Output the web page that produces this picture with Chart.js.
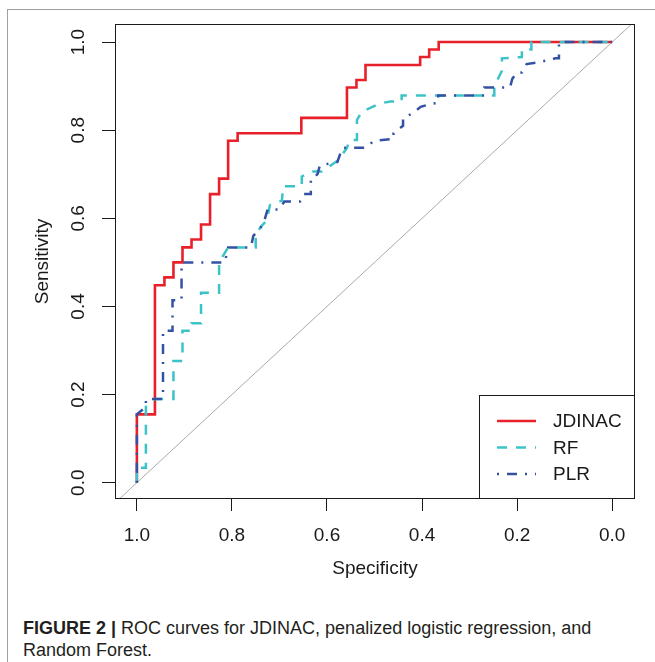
<!DOCTYPE html>
<html>
<head>
<meta charset="utf-8">
<script src="https://cdn.jsdelivr.net/npm/chart.js@4.4.1/dist/chart.umd.min.js"></script>
<style>
  body { margin: 0; background: #fff; }
  #wrap { position: relative; width: 655px; height: 662px; overflow: hidden; }
  #frame { position: absolute; left: 7px; top: 9px; width: 700px; height: 700px;
           border-left: 1px solid #a0a0a0; border-top: 1px solid #a0a0a0; }
  #roc { position: absolute; left: 0; top: 0; }
  #caption { position: absolute; left: 23px; top: 617px; color: #231f20;
             font: 18px "Liberation Sans", Arial, sans-serif; line-height: 22px; }
  #caption b { font-weight: bold; }
</style>
</head>
<body>
<div id="wrap">
  <div id="frame"></div>
  <canvas id="roc" width="655" height="590"></canvas>
  <div id="caption"><b>FIGURE 2 |</b> ROC curves for JDINAC, penalized logistic regression, and<br>Random Forest.</div>
</div>
<script>
// axis ticks and limits
const specTicks = [1.0, 0.8, 0.6, 0.4, 0.2, 0.0];
const sensTicks = [0.0, 0.2, 0.4, 0.6, 0.8, 1.0];
const specMin = -0.048, specMax = 1.046;
const sensMin = -0.037, sensMax = 1.041;

// JDINAC (step corners)
const jdinacSpec = [1.0, 1.0, 0.962, 0.962, 0.942, 0.942, 0.923, 0.923, 0.904, 0.904, 0.885, 0.885,
  0.865, 0.865, 0.846, 0.846, 0.827, 0.827, 0.808, 0.808, 0.788, 0.788, 0.654, 0.654, 0.558, 0.558,
  0.538, 0.538, 0.519, 0.519, 0.404, 0.404, 0.385, 0.385, 0.365, 0.365, 0.0];
const jdinacSens = [0.0, 0.155, 0.155, 0.448, 0.448, 0.466, 0.466, 0.5, 0.5, 0.534, 0.534, 0.552,
  0.552, 0.586, 0.586, 0.655, 0.655, 0.69, 0.69, 0.776, 0.776, 0.793, 0.793, 0.828, 0.828, 0.897,
  0.897, 0.914, 0.914, 0.948, 0.948, 0.966, 0.966, 0.983, 0.983, 1.0, 1.0];

// Random Forest
const rfSpec = [1.0, 1.0, 0.981, 0.981, 0.962, 0.923, 0.923, 0.904, 0.904, 0.885, 0.885, 0.865,
  0.865, 0.827, 0.827, 0.808, 0.75, 0.75, 0.74, 0.727, 0.72, 0.695, 0.692, 0.653, 0.653, 0.63,
  0.611, 0.576, 0.558, 0.552, 0.537, 0.537, 0.527, 0.51, 0.488, 0.467, 0.443, 0.443, 0.248, 0.248,
  0.232, 0.232, 0.19, 0.19, 0.17, 0.17, 0.0];
const rfSens = [0.0, 0.034, 0.034, 0.172, 0.19, 0.19, 0.276, 0.276, 0.345, 0.345, 0.362, 0.362,
  0.431, 0.431, 0.5, 0.534, 0.534, 0.56, 0.58, 0.595, 0.63, 0.64, 0.673, 0.673, 0.695, 0.706,
  0.706, 0.732, 0.76, 0.778, 0.778, 0.823, 0.842, 0.85, 0.861, 0.865, 0.865, 0.879, 0.879, 0.899,
  0.935, 0.963, 0.966, 0.983, 0.983, 1.0, 1.0];

// Penalized logistic regression
const plrSpec = [1.0, 1.0, 0.981, 0.981, 0.945, 0.945, 0.925, 0.925, 0.906, 0.906, 0.815, 0.808,
  0.76, 0.755, 0.734, 0.725, 0.70, 0.69, 0.657, 0.65, 0.634, 0.634, 0.62, 0.615, 0.578, 0.568,
  0.52, 0.501, 0.46, 0.46, 0.44, 0.44, 0.42, 0.403, 0.38, 0.366, 0.366, 0.269, 0.269, 0.215,
  0.21, 0.2, 0.19, 0.18, 0.15, 0.12, 0.112, 0.112, 0.0];
const plrSens = [0.0, 0.155, 0.172, 0.19, 0.19, 0.345, 0.345, 0.414, 0.414, 0.5, 0.5, 0.534,
  0.534, 0.56, 0.586, 0.62, 0.62, 0.638, 0.638, 0.655, 0.655, 0.69, 0.70, 0.72, 0.728, 0.76,
  0.76, 0.776, 0.78, 0.793, 0.81, 0.828, 0.838, 0.853, 0.86, 0.862, 0.879, 0.879, 0.897, 0.897,
  0.917, 0.931, 0.931, 0.95, 0.955, 0.963, 0.963, 1.0, 1.0];

const toPoints = (xs, ys) => xs.map((x, i) => ({ x: x, y: ys[i] }));

Chart.defaults.font.family = '"Liberation Sans", Arial, sans-serif';
Chart.defaults.color = '#1a1a1a';

// box round the plot area
const plotBox = {
  id: 'plotBox',
  afterDraw(chart) {
    const { ctx, chartArea: a } = chart;
    ctx.save();
    ctx.strokeStyle = '#1a1a1a';
    ctx.lineWidth = 1;
    ctx.strokeRect(Math.round(a.left) + 0.5, Math.round(a.top) + 0.5,
      Math.round(a.right - a.left) - 1, Math.round(a.bottom - a.top) - 1);
    ctx.restore();
  }
};

// R style rotated y tick labels
const yLabels = {
  id: 'yLabels',
  afterDraw(chart) {
    const { ctx } = chart;
    const ys = chart.scales.y;
    ctx.save();
    ctx.fillStyle = '#1a1a1a';
    ctx.font = '19px "Liberation Sans", Arial, sans-serif';
    ctx.textAlign = 'center';
    ctx.textBaseline = 'middle';
    sensTicks.forEach(v => {
      ctx.save();
      ctx.translate(79, ys.getPixelForValue(v));
      ctx.rotate(-Math.PI / 2);
      ctx.fillText(v.toFixed(1), 0, 0);
      ctx.restore();
    });
    ctx.restore();
  }
};

// legend box in the lower right corner
const legendBox = {
  id: 'legendBox',
  afterDraw(chart) {
    const { ctx, chartArea: a } = chart;
    const w = 156, h = 104;
    const x0 = Math.round(a.right - w), y0 = Math.round(a.bottom - h);
    ctx.save();
    ctx.fillStyle = '#fff';
    ctx.fillRect(x0, y0, w, h);
    ctx.strokeStyle = '#1a1a1a';
    ctx.lineWidth = 1;
    ctx.strokeRect(x0 + 0.5, y0 + 0.5, w - 1, h - 1);
    const rows = [26, 52.5, 79];
    chart.data.datasets.filter(d => d.label).forEach((d, i) => {
      const y = y0 + rows[i];
      ctx.strokeStyle = d.borderColor;
      ctx.lineWidth = d.borderWidth;
      ctx.setLineDash(d.borderDash || []);
      ctx.beginPath();
      ctx.moveTo(x0 + 18, y);
      ctx.lineTo(x0 + 57, y);
      ctx.stroke();
      ctx.setLineDash([]);
      ctx.fillStyle = '#1a1a1a';
      ctx.font = '19px "Liberation Sans", Arial, sans-serif';
      ctx.textBaseline = 'middle';
      ctx.fillText(d.label, x0 + 74, y + 1);
    });
    ctx.restore();
  }
};

new Chart(document.getElementById('roc'), {
  type: 'line',
  data: {
    datasets: [
      { label: 'JDINAC', data: toPoints(jdinacSpec, jdinacSens), borderColor: '#e8202a',
        borderWidth: 2.6, order: 3 },
      { label: 'RF', data: toPoints(rfSpec, rfSens), borderColor: '#3cc3c8',
        borderWidth: 2.5, borderDash: [10, 9], order: 2 },
      { label: 'PLR', data: toPoints(plrSpec, plrSens), borderColor: '#3452a4',
        borderWidth: 2.5, borderDash: [2, 8, 10, 8], order: 1 },
      { label: '', data: [{ x: specMax, y: 1 - specMax }, { x: specMin, y: 1 - specMin }],
        borderColor: '#aaaaaa', borderWidth: 1, order: 4 }
    ]
  },
  options: {
    responsive: false,
    animation: false,
    devicePixelRatio: 1,
    layout: { padding: { left: 0, top: 24, right: 20, bottom: 0 } },
    elements: {
      point: { radius: 0 },
      line: { tension: 0, fill: false, borderCapStyle: 'butt', borderJoinStyle: 'miter' }
    },
    plugins: { legend: { display: false }, tooltip: { enabled: false } },
    scales: {
      x: {
        type: 'linear',
        reverse: true,
        min: specMin,
        max: specMax,
        afterBuildTicks: s => { s.ticks = specTicks.map(v => ({ value: v })); },
        afterFit: s => { s.height = 91; },
        grid: { drawOnChartArea: false, color: '#1a1a1a', tickLength: 12, lineWidth: 1 },
        border: { display: false },
        ticks: { autoSkip: false, maxRotation: 0, padding: 13, font: { size: 19 },
                 callback: v => v.toFixed(1) },
        title: { display: true, text: 'Specificity', font: { size: 19 },
                 padding: { top: 0, bottom: 10 } }
      },
      y: {
        type: 'linear',
        min: sensMin,
        max: sensMax,
        afterBuildTicks: s => { s.ticks = sensTicks.map(v => ({ value: v })); },
        afterFit: s => { s.width = 115; },
        grid: { drawOnChartArea: false, color: '#1a1a1a', tickLength: 13, lineWidth: 1 },
        border: { display: false },
        ticks: { display: false },
        title: { display: true, text: 'Sensitivity', font: { size: 19 },
                 padding: { top: 31, bottom: 0 } }
      }
    }
  },
  plugins: [plotBox, yLabels, legendBox]
});
</script>
</body>
</html>
